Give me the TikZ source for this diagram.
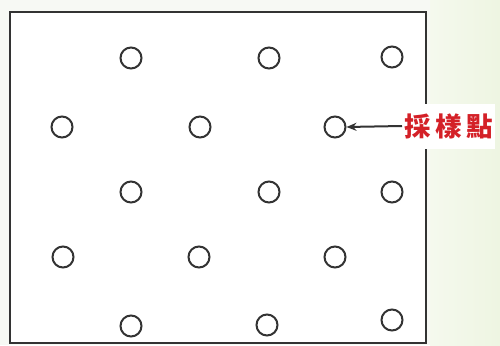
\documentclass[tikz,border=0pt]{standalone}
\usepackage{fontspec}
\newfontfamily\cjk{Noto Sans CJK TC}
\usetikzlibrary{arrows.meta}
\definecolor{bgL}{HTML}{F7F9F4}
\definecolor{bgG}{HTML}{EEF5E2}
\definecolor{lbl}{HTML}{D42027}
\definecolor{ink}{HTML}{333333}
\tikzset{
  pt/.style={circle,draw=ink,line width=2pt,minimum size=21pt,inner sep=0pt},
  frame/.style={draw=ink,line width=2.4pt},
  lab/.style={font=\cjk\fontsize{26.5}{26.5}\selectfont\bfseries,text=lbl,fill=white,inner xsep=2pt,inner ysep=3pt,minimum height=45pt}
}
\begin{document}
\begin{tikzpicture}[x=1pt,y=-1pt]
\useasboundingbox (0,0) rectangle (500,345);
\fill[bgL] (0,0) rectangle (500,345);
\shade[left color=bgG!60,right color=bgG] (430,0) rectangle (500,345);
\fill[white] (10,12) rectangle (426,343);
\draw[frame] (10,12) rectangle (426,343);
% row 1
\node[pt] (a1) at (131,58) {};
\node[pt] (a2) at (269,58) {};
\node[pt] (a3) at (392,57) {};
% row 2
\node[pt] (b1) at (62,127) {};
\node[pt] (b2) at (200,127) {};
\node[pt] (b3) at (335,127) {};
% row 3
\node[pt] (c1) at (131,192) {};
\node[pt] (c2) at (269,192) {};
\node[pt] (c3) at (392,192) {};
% row 4
\node[pt] (d1) at (63,257) {};
\node[pt] (d2) at (199,257) {};
\node[pt] (d3) at (335,257) {};
% row 5
\node[pt] (e1) at (131,326) {};
\node[pt] (e2) at (267,325) {};
\node[pt] (e3) at (392,320) {};
\node[lab,anchor=west] (t) at (402,126) {採\hspace{4.5pt}樣\hspace{4.5pt}點};
\draw[ink,line width=2pt,-{Stealth[length=10pt,width=8pt]}] (t.west) -- (b3.east);
\end{tikzpicture}
\end{document}
